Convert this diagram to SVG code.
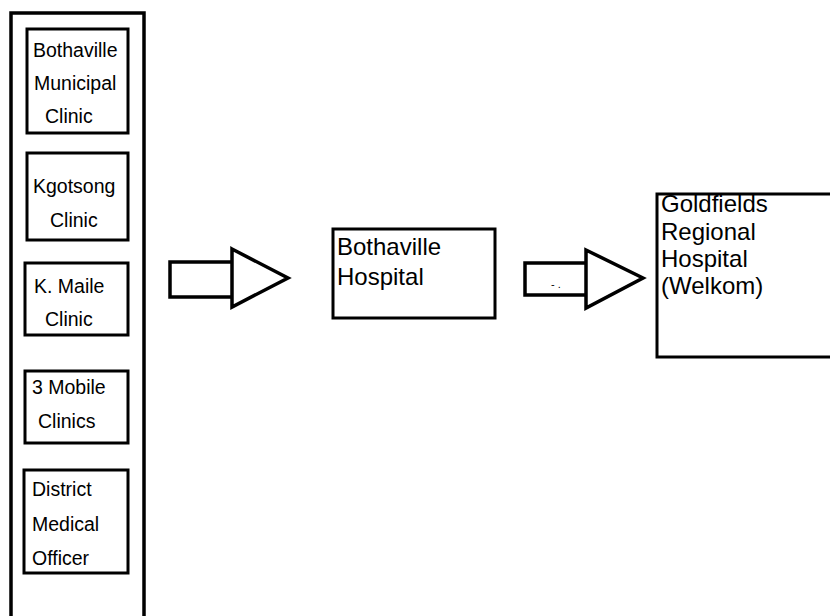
<svg xmlns="http://www.w3.org/2000/svg" width="830" height="616" viewBox="0 0 830 616">
<style>
.box{fill:#fff;stroke:#000;stroke-width:3}
.out{fill:none;stroke:#000;stroke-width:3.5}
.arr{fill:#fff;stroke:#000;stroke-width:3.5;stroke-linejoin:miter}
.s{font-family:"Liberation Sans",Arial,sans-serif;font-size:19.5px;fill:#000}
.l{font-family:"Liberation Sans",Arial,sans-serif;font-size:24px;fill:#000}
</style>
<rect width="830" height="616" fill="#fff"/>
<g id="facilities">
<rect class="out" x="11" y="13" width="133" height="610"/>
</g>
<g id="bothaville-municipal-clinic">
<rect class="box" x="27" y="29" width="101" height="104"/>
<text class="s" x="33" y="57">Bothaville</text>
<text class="s" x="34" y="90">Municipal</text>
<text class="s" x="45" y="123">Clinic</text>
</g>
<g id="kgotsong-clinic">
<rect class="box" x="27" y="153" width="101" height="87"/>
<text class="s" x="33" y="193">Kgotsong</text>
<text class="s" x="50" y="227">Clinic</text>
</g>
<g id="k-maile-clinic">
<rect class="box" x="25" y="263" width="103" height="72"/>
<text class="s" x="34" y="293">K. Maile</text>
<text class="s" x="45" y="326">Clinic</text>
</g>
<g id="mobile-clinics">
<rect class="box" x="25" y="371" width="103" height="72"/>
<text class="s" x="32" y="394">3 Mobile</text>
<text class="s" x="38" y="428">Clinics</text>
</g>
<g id="district-medical-officer">
<rect class="box" x="24" y="470" width="104" height="103"/>
<text class="s" x="32" y="496">District</text>
<text class="s" x="32" y="531">Medical</text>
<text class="s" x="32" y="565">Officer</text>
</g>
<g id="bothaville-hospital">
<rect class="box" x="333" y="229" width="162" height="89"/>
<text class="l" x="337" y="255">Bothaville</text>
<text class="l" x="337" y="285">Hospital</text>
</g>
<g id="goldfields-regional-hospital">
<rect class="box" x="657" y="194" width="185" height="163"/>
<text class="l" x="661" y="212">Goldfields</text>
<text class="l" x="661" y="240">Regional</text>
<text class="l" x="661" y="267">Hospital</text>
<text class="l" x="661" y="294">(Welkom)</text>
</g>
<g id="connectors">
<path class="arr" d="M232,262 H170 V297 H232"/>
<path class="arr" d="M232,249 L288,278 L232,307 Z"/>
<path class="arr" d="M586,263 H525 V295 H586"/>
<path class="arr" d="M586,250 L643,278 L586,308 Z"/>
<text x="551" y="288" font-family="Liberation Sans,Arial,sans-serif" font-size="11" fill="#000">- .</text>
</g>
</svg>
